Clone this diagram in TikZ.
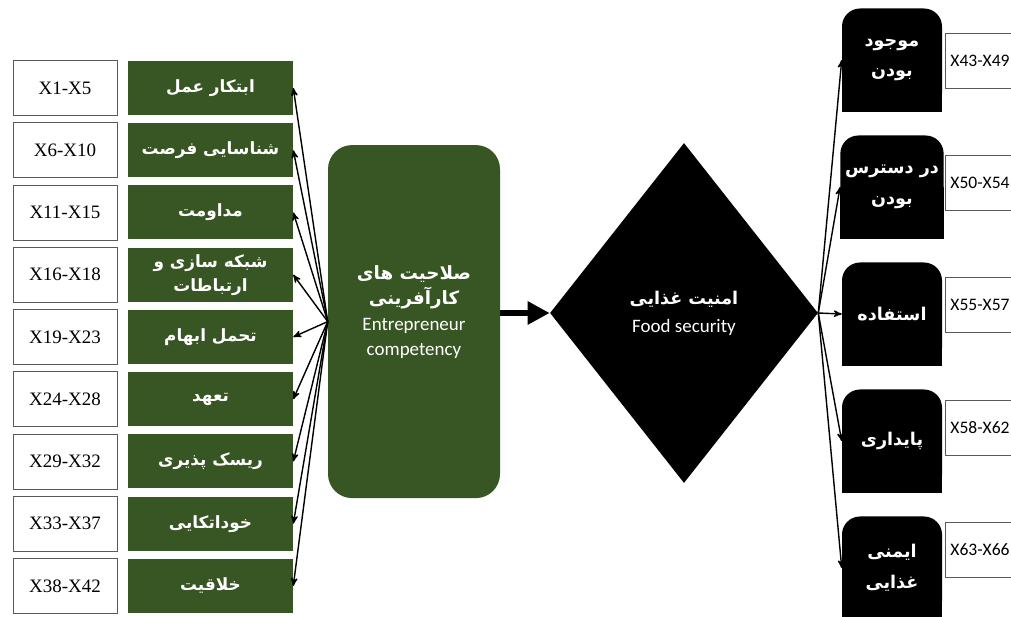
\documentclass[tikz,border=0pt]{standalone}
\usepackage{fontspec}
\setmainfont{Liberation Serif}
\newfontfamily\farsi[Script=Arabic]{DejaVu Sans}
\newfontfamily\calib{Carlito}
\TeXXeTstate=1
\usepackage{xcolor}
\usepackage{tikz}
\usetikzlibrary{shapes}
\usetikzlibrary{arrows}
\usetikzlibrary{arrows.meta}
\usetikzlibrary{backgrounds}
\definecolor{compgreen}{HTML}{375623}
\newcommand{\fatext}[1]{\beginR#1\endR}
\tikzset{
	comp node/.style={rectangle,fill=compgreen,text=white,font=\farsi\bfseries\fontsize{12}{17}\selectfont,
		minimum width=4.125cm,minimum height=1.35cm,inner sep=1pt,align=center},
	item node/.style={rectangle,draw=black!65,fill=white,font=\fontsize{13.5}{15}\selectfont,
		minimum width=2.6cm,minimum height=1.375cm},
	core node/.style={rectangle,rounded corners=0.6cm,fill=compgreen,text=white,align=center,
		font=\fontsize{13}{18}\selectfont,minimum width=4.3cm,minimum height=8.825cm},
	food node/.style={diamond,fill=black,text=white,align=center,inner sep=0pt,
		font=\fontsize{13}{20}\selectfont,minimum width=6.7cm,minimum height=8.5cm},
	dim node/.style={rectangle,rounded corners=0.45cm,fill=black,text=white,align=center,
		font=\farsi\bfseries\fontsize{12.5}{22}\selectfont,minimum width=2.5cm,minimum height=2.575cm},
	code node/.style={rectangle,draw=black!65,fill=white,font=\calib\fontsize{12.5}{15}\selectfont,
		minimum width=1.65cm,minimum height=1.375cm}
}

\begin{document}
\begin{tikzpicture}[->,>=stealth',node distance=1.556cm]
	    \useasboundingbox (0,0) rectangle (25.275,-15.425);

	    \node[comp node] (1) at (5.2625,-2.2) {\fatext{ابتکار عمل}};
	    \node[item node] (x1) at (1.625,-2.2) {X1-X5};

	    \node[comp node] (2) [below of=1] {\fatext{شناسایی فرصت}};
	    \node[item node] (x2) at (1.625,-3.756) {X6-X10};

	    \node[comp node] (3) [below of=2] {\fatext{مداومت}};
	    \node[item node] (x3) at (1.625,-5.312) {X11-X15};

	    \node[comp node] (4) [below of=3] {\fatext{شبکه سازی و}\\ \fatext{ارتباطات}};
	    \node[item node] (x4) at (1.625,-6.868) {X16-X18};

	    \node[comp node] (5) [below of=4] {\fatext{تحمل ابهام}};
	    \node[item node] (x5) at (1.625,-8.424) {X19-X23};

	    \node[comp node] (6) [below of=5] {\fatext{تعهد}};
	    \node[item node] (x6) at (1.625,-9.98) {X24-X28};

	    \node[comp node] (7) [below of=6] {\fatext{ریسک پذیری}};
	    \node[item node] (x7) at (1.625,-11.536) {X29-X32};

	    \node[comp node] (8) [below of=7] {\fatext{خوداتکایی}};
	    \node[item node] (x8) at (1.625,-13.092) {X33-X37};

	    \node[comp node] (9) [below of=8] {\fatext{خلاقیت}};
	    \node[item node] (x9) at (1.625,-14.648) {X38-X42};

	    \node[core node] (core) at (10.35,-8.04)
	        {{\farsi\bfseries \fatext{صلاحیت های}}\\
	         {\farsi\bfseries \fatext{کارآفرینی}}\\
	         {\calib\fontsize{13.5}{18}\selectfont Entrepreneur}\\
	         {\calib\fontsize{13.5}{18}\selectfont competency}\\[-2.5pt]};

	    \node[food node] (food) at (17.1,-7.825)
	        {{\farsi\bfseries\fontsize{12.5}{20}\selectfont \fatext{امنیت غذایی}}\\
	         {\calib\fontsize{13.5}{20}\selectfont Food security}};

	    \node[dim node] (d1) at (22.3,-1.5) {\fatext{موجود}\\ \fatext{بودن}};
	    \node[code node] (y1) at (24.5,-1.525) {X43-X49};

	    \node[dim node] (d2) [below of=d1,node distance=3.175cm] {\fatext{در دسترس}\\ \fatext{بودن}};
	    \node[code node] (y2) at (24.5,-4.575) {X50-X54};

	    \node[dim node] (d3) [below of=d2,node distance=3.175cm] {\fatext{استفاده}};
	    \node[code node] (y3) at (24.5,-7.625) {X55-X57};

	    \node[dim node] (d4) [below of=d3,node distance=3.175cm] {\fatext{پایداری}};
	    \node[code node] (y4) at (24.5,-10.7) {X58-X62};

	    \node[dim node] (d5) [below of=d4,node distance=3.175cm] {\fatext{ایمنی}\\ \fatext{غذایی}};
	    \node[code node] (y5) at (24.5,-13.75) {X63-X66};

	    % square lower corners of the black boxes
	    \begin{scope}[on background layer]
	      \fill[-] (d1.west) rectangle (d1.south east);
	      \fill[-] (d2.west) rectangle (d2.south east);
	      \fill[-] (d3.west) rectangle (d3.south east);
	      \fill[-] (d4.west) rectangle (d4.south east);
	      \fill[-] (d5.west) rectangle (d5.south east);
	    \end{scope}

	    \path[line width=1pt]
	      (core.west) edge (1.east)
	                  edge (2.east)
	                  edge (3.east)
	                  edge (4.east)
	                  edge (5.east)
	                  edge (6.east)
	                  edge (7.east)
	                  edge (8.east)
	                  edge (9.east);

	    \draw[-{Triangle[length=0.55cm,width=0.55cm]},line width=4.5pt] (core.east |- food.west) -- (food.west);

	    \path[line width=1pt]
	      (food.east) edge (d1.west)
	                  edge (d2.west)
	                  edge (d3.west)
	                  edge (d4.west)
	                  edge (d5.west);
	  \end{tikzpicture}
\end{document}
